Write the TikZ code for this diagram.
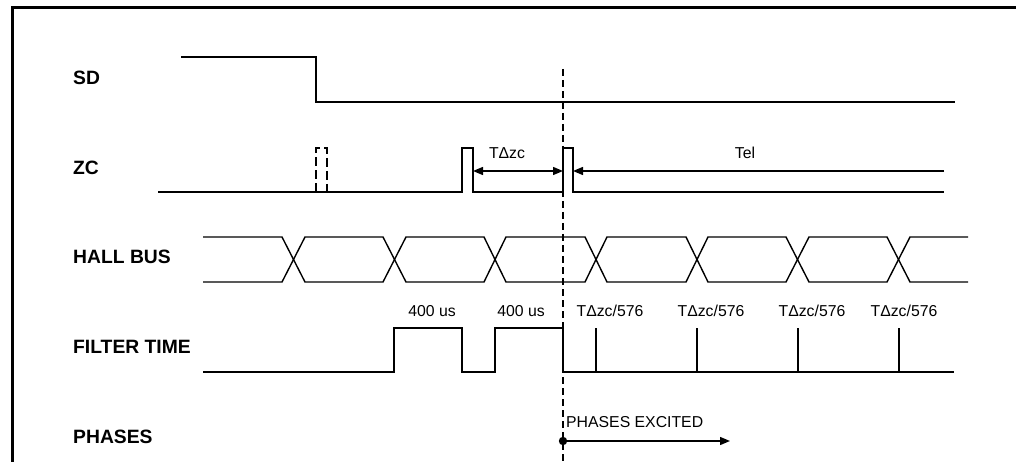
\documentclass[tikz,border=0pt]{standalone}
\usepackage{fontspec}
\setmainfont{Liberation Sans}
\usetikzlibrary{arrows.meta}
\begin{document}
\begin{tikzpicture}[x=1pt,y=-1pt,
  sig/.style={line width=1.4pt, line join=miter},
  frame/.style={line width=3pt},
  vdash/.style={line width=1.2pt, dash pattern=on 7pt off 4pt},
  lbl/.style={font=\fontsize{19.3}{22}\selectfont\bfseries, anchor=west, inner sep=0pt},
  txt/.style={font=\fontsize{15.8}{18}\selectfont, inner sep=0pt},
  dimarrow/.style={line width=1.4pt, -{Triangle[length=10pt,width=8pt]}},
  dimboth/.style={line width=1.4pt, {Triangle[length=10pt,width=8pt]}-{Triangle[length=10pt,width=8pt]}}
]
\useasboundingbox (0,0) rectangle (1016,462);
% frame (open to the right and bottom)
\draw[frame] (12,462) -- (12,8) -- (1016,8);

% row labels
\node[lbl] (sd) at (73,78) {SD};
\node[lbl] (zc) at (73,168) {ZC};
\node[lbl] (hall) at (73,257) {HALL BUS};
\node[lbl] (filt) at (73,347) {FILTER TIME};
\node[lbl] (ph) at (73,437) {PHASES};

% SD
\draw[sig] (181,57) -- (316,57) -- (316,102) -- (955,102);

% ZC
\draw[sig] (158,192) -- (462,192) -- (462,148) -- (473,148) -- (473,192) -- (563,192)
  -- (563,148) -- (573,148) -- (573,192) -- (944,192);
\draw[sig, dash pattern=on 9pt off 4pt] (316,192) -- (316,148) -- (327,148) -- (327,192);

% dimension arrows
\coordinate (z1) at (473,171);
\coordinate (z2) at (563,171);
\coordinate (t1) at (944,171);
\coordinate (t2) at (573,171);
\draw[dimboth] (z1) -- (z2);
\draw[dimarrow] (t1) -- (t2);
\node[txt] (tdz) at (507,153) {T\symbol{"0394}zc};
\node[txt] (tel) at (745,153) {Tel};

% HALL BUS
\draw[sig] (203,237) -- (282,237) -- (305,282) -- (383,282) -- (406,237) -- (484,237)
  -- (506,282) -- (585,282) -- (607,237) -- (686,237) -- (708,282) -- (786,282)
  -- (809,237) -- (887,237) -- (910,282) -- (968,282);
\draw[sig] (203,282) -- (282,282) -- (305,237) -- (383,237) -- (406,282) -- (484,282)
  -- (506,237) -- (585,237) -- (607,282) -- (686,282) -- (708,237) -- (786,237)
  -- (809,282) -- (887,282) -- (910,237) -- (968,237);

% FILTER TIME
\draw[sig] (203,372) -- (394,372) -- (394,328) -- (462,328) -- (462,372) -- (495,372)
  -- (495,328) -- (563,328) -- (563,372) -- (954,372);
\foreach \xx in {596,697,798,899} \draw[sig] (\xx,372) -- (\xx,328);
\node[txt] (f1) at (432,311) {400 us};
\node[txt] (f2) at (521,311) {400 us};
\node[txt] (f3) at (610,311) {T\symbol{"0394}zc/576};
\node[txt] (f4) at (711,311) {T\symbol{"0394}zc/576};
\node[txt] (f5) at (812,311) {T\symbol{"0394}zc/576};
\node[txt] (f6) at (904,311) {T\symbol{"0394}zc/576};

% vertical dashed marker
\coordinate (vtop) at (563,69);
\coordinate (vbot) at (563,462);
\draw[vdash] (vtop) -- (vbot);

% PHASES
\coordinate (pstart) at (563,441);
\coordinate (pend) at (730,441);
\fill (pstart) circle (4.2pt);
\draw[dimarrow] (pstart) -- (pend);
\node[txt, anchor=west] (pex) at (566,422) {PHASES EXCITED};
\end{tikzpicture}
\end{document}
